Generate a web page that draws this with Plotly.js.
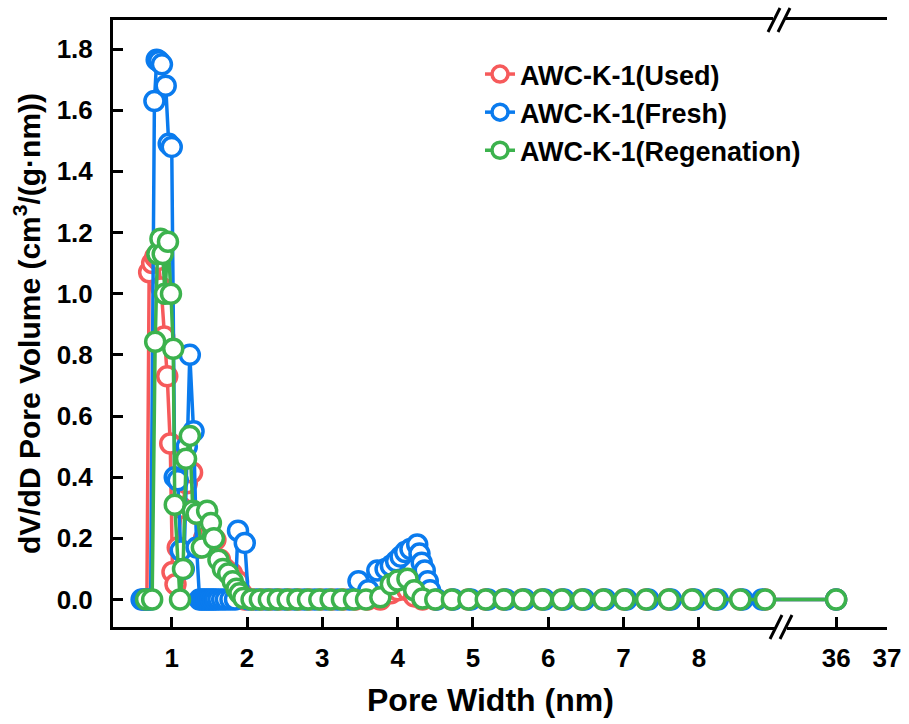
<!DOCTYPE html>
<html>
<head>
<meta charset="utf-8">
<script src="https://cdn.plot.ly/plotly-3.0.1.min.js"></script>
<style>html,body{margin:0;padding:0;background:#fff;}#chart{width:909px;height:724px;}</style>
</head>
<body>
<div id="chart"></div>
<script>
// ---- data ----
const seriesNames = ["AWC-K-1(Used)", "AWC-K-1(Fresh)", "AWC-K-1(Regenation)"];

const xUsed = [0.62, 0.67, 0.70, 0.74, 0.78, 0.82, 0.86, 0.90, 0.94, 0.98, 1.01, 1.05, 1.08, 1.13, 1.20, 1.27, 1.33, 1.38, 1.43, 1.50, 1.58, 1.64, 1.71, 1.80, 1.88, 1.93,
  1.97, 2.08, 2.19, 2.31, 2.43, 2.56, 2.69, 2.83, 2.98, 3.13, 3.28, 3.44, 3.60, 3.77, 3.91, 4.00, 4.13, 4.22, 4.33,
  4.50, 4.72, 4.94, 5.17, 5.41, 5.66, 5.92, 6.18, 6.45, 6.73, 7.01, 7.30, 7.60, 7.91, 8.22, 8.55, 8.88, 36.0];
const yUsed = [0, 0, 1.07, 1.10, 1.12, 1.11, 1.02, 0.86, 0.73, 0.51, 0.09, 0.05, 0.17, 0.30, 0.38, 0.415, 0.28, 0.17, 0.20, 0.21, 0.195, 0.13, 0.10, 0.085, 0.06, 0.02,
  0, 0, 0, 0, 0, 0, 0, 0, 0, 0, 0, 0, 0, 0, 0.02, 0.03, 0.03, 0.01, 0,
  0, 0, 0, 0, 0, 0, 0, 0, 0, 0, 0, 0, 0, 0, 0, 0, 0, 0];

const xFresh = [0.60, 0.64, 0.68, 0.72, 0.77, 0.80, 0.83, 0.87, 0.92, 0.96, 1.00, 1.04, 1.08, 1.12, 1.16, 1.20, 1.24, 1.29, 1.33, 1.37, 1.40, 1.43, 1.46, 1.49, 1.52, 1.55, 1.58, 1.62, 1.67, 1.72, 1.78, 1.84, 1.88, 1.97, 2.02,
  2.13, 2.25, 2.37, 2.50, 2.63, 2.76, 2.90, 3.05, 3.20, 3.36, 3.48, 3.61, 3.73, 3.84, 3.91, 3.98, 4.04, 4.10, 4.17, 4.26, 4.29, 4.32, 4.36, 4.40, 4.43,
  4.52, 4.74, 4.97, 5.20, 5.44, 5.69, 5.95, 6.21, 6.48, 6.76, 7.04, 7.33, 7.63, 7.94, 8.25, 8.58, 8.84, 36.0];
const yFresh = [0, 0, 0, 0, 1.63, 1.765, 1.76, 1.75, 1.68, 1.49, 1.48, 0.40, 0.39, 0.16, 0.10, 0.50, 0.80, 0.55, 0.17, 0, 0, 0, 0, 0, 0, 0, 0, 0, 0, 0, 0, 0, 0.225, 0.185, 0,
  0, 0, 0, 0, 0, 0, 0, 0, 0, 0, 0.06, 0.03, 0.095, 0.10, 0.11, 0.125, 0.14, 0.155, 0.165, 0.18, 0.15, 0.12, 0.095, 0.06, 0.03,
  0, 0, 0, 0, 0, 0, 0, 0, 0, 0, 0, 0, 0, 0, 0, 0, 0, 0];

const xRegen = [0.66, 0.74, 0.78, 0.81, 0.85, 0.88, 0.91, 0.95, 0.99, 1.02, 1.04, 1.11, 1.15, 1.19, 1.24, 1.28, 1.33, 1.40, 1.47, 1.52, 1.56, 1.62, 1.68, 1.75, 1.81, 1.86, 1.90,
  1.95, 2.06, 2.17, 2.29, 2.41, 2.54, 2.67, 2.81, 2.96, 3.11, 3.26, 3.42, 3.58, 3.77, 3.91, 4.00, 4.13, 4.22, 4.33,
  4.50, 4.72, 4.94, 5.17, 5.41, 5.66, 5.92, 6.18, 6.45, 6.73, 7.01, 7.30, 7.60, 7.91, 8.22, 8.55, 8.88, 36.0];
const yRegen = [0, 0, 0.843, 1.13, 1.18, 1.13, 1.00, 1.17, 1.00, 0.82, 0.31, 0, 0.10, 0.46, 0.535, 0.29, 0.28, 0.17, 0.29, 0.25, 0.20, 0.13, 0.10, 0.085, 0.06, 0.035, 0.02,
  0.005, 0, 0, 0, 0, 0, 0, 0, 0, 0, 0, 0, 0, 0.007, 0.05, 0.062, 0.068, 0.03, 0.003,
  0, 0, 0, 0, 0, 0, 0, 0, 0, 0, 0, 0, 0, 0, 0, 0, 0, 0];

const yTicks = [0, 0.2, 0.4, 0.6, 0.8, 1.0, 1.2, 1.4, 1.6, 1.8];
const xTicksLeft = [1, 2, 3, 4, 5, 6, 7, 8];
const xTicksRight = [36, 37];
const xTitle = "Pore Width (nm)";
const yTitle = "dV/dD Pore Volume (cm<sup>3</sup>/(g·nm))";

// ---- style ----
const colors = ["#F65A5B", "#0A7BEE", "#3CB24D"];
const FONT = "Liberation Sans, Arial, sans-serif";
const W = 909, H = 724, M = {l: 113, r: 22, t: 20, b: 97};
const split = 0.862;
const pw = W - M.l - M.r, ph = H - M.t - M.b;
const px2x = p => (p - M.l) / pw;
const py2y = p => (H - M.b - p) / ph;

const xs = [xUsed, xFresh, xRegen], ys = [yUsed, yFresh, yRegen];
function mkTrace(i, xa, legend) {
  return {
    x: xs[i], y: ys[i], mode: "lines+markers", name: seriesNames[i],
    xaxis: xa, yaxis: "y", showlegend: legend,
    line: {color: colors[i], width: 3.5},
    marker: {symbol: "circle", size: 19, color: "#ffffff", line: {color: colors[i], width: 3.5}}
  };
}
const traces = [];
for (let i = 0; i < 3; i++) traces.push(mkTrace(i, "x", true));
for (let i = 0; i < 3; i++) traces.push(mkTrace(i, "x2", false));

const axisCommon = {
  showline: true, linewidth: 3, linecolor: "#000", mirror: true,
  ticks: "inside", ticklen: 10, tickwidth: 3, tickcolor: "#000",
  showgrid: false, zeroline: false,
  tickfont: {family: FONT, size: 26, color: "#000", weight: "bold"}
};

// axis-break marks
function breakMarks(cx, cy) {
  const s = [];
  s.push({type: "rect", xref: "paper", yref: "paper",
    x0: px2x(cx - 6), x1: px2x(cx + 6), y0: py2y(cy + 4), y1: py2y(cy - 4),
    fillcolor: "#fff", line: {width: 0}, layer: "above"});
  [-5, 5].forEach(d => {
    s.push({type: "line", xref: "paper", yref: "paper",
      x0: px2x(cx + d - 6), y0: py2y(cy + 12), x1: px2x(cx + d + 6), y1: py2y(cy - 12),
      line: {color: "#000", width: 3}, layer: "above"});
  });
  return s;
}
const shapes = [].concat(breakMarks(781, H - M.b), breakMarks(779, M.t));

const layout = {
  width: W, height: H, margin: M,
  paper_bgcolor: "#fff", plot_bgcolor: "#fff",
  font: {family: FONT, color: "#000", weight: "bold"},
  showlegend: true,
  legend: {
    x: px2x(480), y: py2y(50), xanchor: "left", yanchor: "top",
    bgcolor: "rgba(0,0,0,0)", borderwidth: 0,
    font: {family: FONT, size: 27, color: "#000", weight: "bold"}
  },
  xaxis: Object.assign({}, axisCommon, {
    domain: [0, split], range: [0.22, 9.08], tickmode: "array", tickvals: xTicksLeft,
    ticktext: xTicksLeft.map(String), ticklabelstandoff: 6
  }),
  xaxis2: Object.assign({}, axisCommon, {
    domain: [split, 1], range: [34.9, 37], anchor: "y", tickmode: "array", tickvals: xTicksRight,
    ticktext: xTicksRight.map(String), ticklabelstandoff: 6
  }),
  yaxis: Object.assign({}, axisCommon, {
    mirror: false,
    range: [-0.09, 1.895], tickmode: "array", tickvals: yTicks,
    ticktext: yTicks.map(v => v.toFixed(1)), ticklabelstandoff: 12,
    title: {text: yTitle, font: {family: FONT, size: 30, color: "#000", weight: "bold"}, standoff: 8}
  }),
  yaxis2: {
    overlaying: "y", anchor: "x2", side: "right", range: [-0.09, 1.895],
    showline: true, linewidth: 3, linecolor: "#000", ticks: "", showticklabels: false,
    showgrid: false, zeroline: false
  },
  annotations: [{
    text: xTitle, xref: "paper", yref: "paper", x: px2x(490), y: py2y(700),
    xanchor: "center", yanchor: "middle", showarrow: false,
    font: {family: FONT, size: 32, color: "#000", weight: "bold"}
  }],
  shapes: shapes
};

Plotly.newPlot("chart", traces, layout, {staticPlot: true, displayModeBar: false});
</script>
</body>
</html>
